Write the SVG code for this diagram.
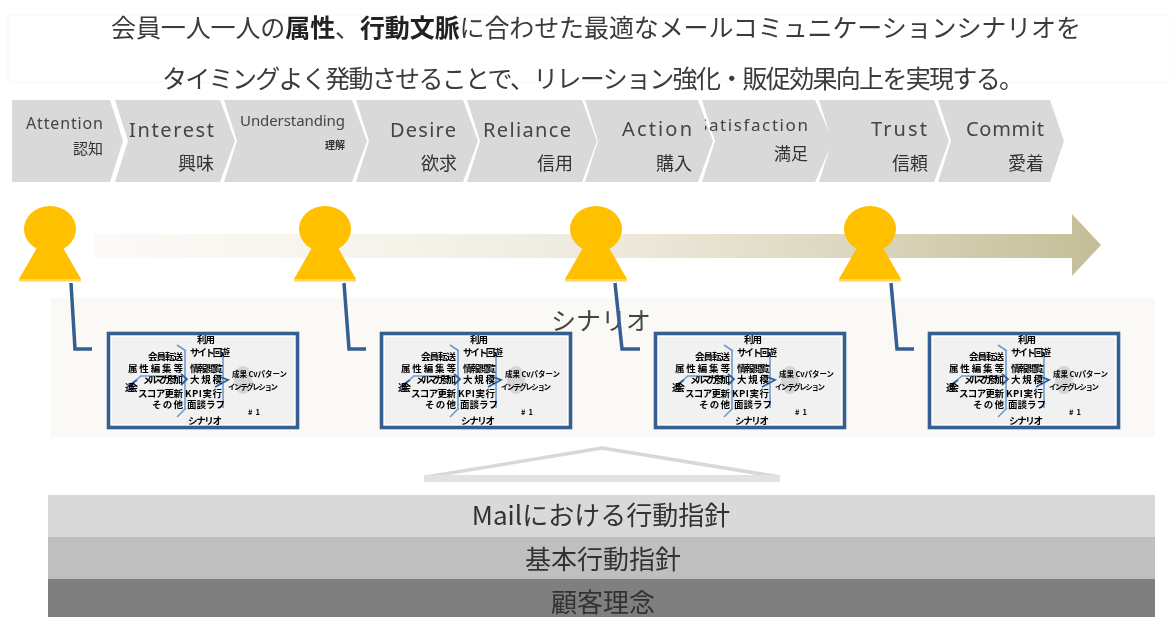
<svg xmlns="http://www.w3.org/2000/svg" xmlns:xlink="http://www.w3.org/1999/xlink" width="1170" height="617" viewBox="0 0 1170 617">
<style>
text{font-family:"Noto Sans CJK JP","Noto Sans",sans-serif;fill:#3a3a3a}
.t{font-size:25px}
.b{font-weight:700;fill:#222}
.chev{fill:#d9d9d9}
.en{font-family:"Noto Sans","Noto Sans CJK JP",sans-serif;font-size:20px;fill:#444}
.ja{font-size:17px;text-anchor:end;fill:#333}
.link{fill:none;stroke:#355e91;stroke-width:3.5}
.bar{font-size:26px;text-anchor:middle;fill:#333}
.c{font-size:9.5px;font-weight:700;fill:#000}
.s{font-size:7.5px;font-weight:700;fill:#000}
.cl{fill:none;stroke:#6f9bd1;stroke-width:1.6}
.cd{fill:none;stroke:#2f5f9e;stroke-width:1.8}
</style>
<defs>
<filter id="soft" x="-2%" y="-2%" width="104%" height="104%"><feGaussianBlur stdDeviation="0.7"/></filter>
<linearGradient id="flow" x1="95" y1="0" x2="1102" y2="0" gradientUnits="userSpaceOnUse"><stop offset="0" stop-color="#fbfaf7"/><stop offset="0.3" stop-color="#f5f3ea"/><stop offset="0.55" stop-color="#ebe7d9"/><stop offset="0.75" stop-color="#dcd7bf"/><stop offset="1" stop-color="#c4bd97"/></linearGradient>
<clipPath id="satclip"><rect x="705" y="100" width="120" height="82"/></clipPath>
<g id="person">
<ellipse cx="50" cy="229" rx="26" ry="23" fill="#ffc000"/>
<path d="M38 246H62L81 279H19Z" fill="#ffc000"/>
<rect x="19" y="279" width="62" height="2.5" fill="#ffd65c"/>
</g>
<g id="card">
<rect x="1.5" y="1.5" width="189" height="94" fill="#fff" stroke="#355e91" stroke-width="3.6"/>
<rect x="5" y="5" width="182" height="87" fill="#f1f1f2"/>
<ellipse cx="136" cy="48" rx="9" ry="14" fill="#d5d5d5"/>
<path class="cl" d="M78 19V78M116 20V76M70 13L79 19M70 85L79 76M34 44L22 54M33 44H76"/>
<path class="cd" d="M74 42L80 47L74 53M108 43L121 48L108 55M30 48L20 55"/>
<text class="c" x="90" y="11" textLength="18">利用</text>
<text class="c" x="83" y="24" textLength="40">サイト回遊</text>
<text class="c" x="41" y="28" textLength="35">会員転送</text>
<text class="c" x="21" y="40" textLength="55">属性編集等</text>
<text class="c" x="83" y="40" textLength="33">情報閲覧</text>
<text class="c" x="36" y="51" textLength="40">メルマガ参加</text>
<text class="c" x="83" y="51" textLength="32">大規模</text>
<text class="c" x="18" y="59" textLength="13">退会</text>
<text class="c" x="31" y="65" textLength="45">スコア更新</text>
<text class="c" x="78" y="65" textLength="37">KPI実行</text>
<text class="c" x="45" y="76" textLength="31">その他</text>
<text class="c" x="80" y="76" textLength="38">面談ラフ</text>
<text class="c" x="81" y="92" textLength="34">シナリオ</text>
<text class="s" x="125" y="45" textLength="55">成果 Cvパターン</text>
<text class="s" x="121" y="58" textLength="50">インテグレション</text>
<text class="s" x="141" y="83" textLength="12">#1</text>
</g>
</defs>
<rect width="1170" height="617" fill="#fff"/>
<g filter="url(#soft)">
<g id="title">
<rect x="8" y="15" width="1162" height="67" fill="#fff" stroke="#f7f7f7"/>
<text class="t" x="111" y="37" textLength="970" lengthAdjust="spacing">会員一人一人の<tspan class="b">属性</tspan>、<tspan class="b">行動文脈</tspan>に合わせた最適なメールコミュニケーションシナリオを</text>
<text class="t" x="162" y="88" font-size="24" textLength="862" lengthAdjust="spacing">タイミングよく発動させることで、リレーション強化・販促効果向上を実現する。</text>
</g>
<g id="stage-attention"><path class="chev" d="M12 100H110L123 141L110 182H12Z"/><text class="en" x="26" y="129" style="font-size:16px" textLength="77">Attention</text><text class="ja" x="103" y="154" style="font-size:15px">認知</text></g>
<g id="stage-interest"><path class="chev" d="M115 100H220L235 141L220 182H115L128 141Z"/><text class="en" x="129" y="137" textLength="85">Interest</text><text class="ja" x="214" y="170" style="font-size:18px">興味</text></g>
<g id="stage-understanding"><path class="chev" d="M224 100H352L367 141L352 182H224L237 141Z"/><text class="en" x="240" y="126" style="font-size:15px" textLength="105">Understanding</text><text class="ja" x="345" y="149" style="font-size:10px;font-weight:700">理解</text></g>
<g id="stage-desire"><path class="chev" d="M356 100H463L478 141L463 182H356L369 141Z"/><text class="en" x="390" y="137" textLength="66">Desire</text><text class="ja" x="457" y="170" style="font-size:18px">欲求</text></g>
<g id="stage-reliance"><path class="chev" d="M467 100H582L597 141L582 182H467L480 141Z"/><text class="en" x="483" y="137" textLength="88">Reliance</text><text class="ja" x="573" y="170" style="font-size:18px">信用</text></g>
<g id="stage-action"><path class="chev" d="M585 100H698L713 141L698 182H585L598 141Z"/><text class="en" x="622" y="136" textLength="70">Action</text><text class="ja" x="692" y="170" style="font-size:18px">購入</text></g>
<g id="stage-satisfaction"><path class="chev" d="M702 100H815L833 141L815 182H702L715 141Z"/><g clip-path="url(#satclip)"><text class="en" x="698" y="131" style="font-size:17px" textLength="110">Satisfaction</text></g><text class="ja" x="808" y="160">満足</text></g>
<g id="stage-trust"><path class="chev" d="M819 100H934L949 141L934 182H819L832 141Z"/><text class="en" x="871" y="136" textLength="56">Trust</text><text class="ja" x="928" y="170" style="font-size:18px">信頼</text></g>
<g id="stage-commit"><path class="chev" d="M938 100H1050L1064 141L1050 182H938L951 141Z"/><text class="en" x="966" y="136" textLength="78">Commit</text><text class="ja" x="1044" y="170" style="font-size:18px">愛着</text></g>
<g id="flow-arrow"><path d="M95 234H1072V214L1101 245L1072 276V258H95Z" fill="url(#flow)"/></g>
<g id="scenario-panel"><rect x="51" y="298" width="1104" height="139" fill="#faf9f6"/></g>
<g id="scenario-label"><text x="601" y="330" text-anchor="middle" style="font-size:25px;fill:#444">シナリオ</text></g>
<g id="person-1"><use href="#person" xlink:href="#person"/></g>
<g id="person-2"><use href="#person" xlink:href="#person" x="275"/></g>
<g id="person-3"><use href="#person" xlink:href="#person" x="546"/></g>
<g id="person-4"><use href="#person" xlink:href="#person" x="820"/></g>
<g id="card-1"><use href="#card" xlink:href="#card" x="107" y="332"/></g>
<g id="card-2"><use href="#card" xlink:href="#card" x="380" y="332"/></g>
<g id="card-3"><use href="#card" xlink:href="#card" x="654" y="332"/></g>
<g id="card-4"><use href="#card" xlink:href="#card" x="928" y="332"/></g>
<g id="connectors">
<path class="link" d="M71 283L75 349H92"/>
<path class="link" d="M344 283L349 349H366"/>
<path class="link" d="M615 283L622 349H640"/>
<path class="link" d="M891 283L897 349H914"/>
</g>
<g id="roof"><path d="M426 477L602 448L780 477" fill="none" stroke="#d8d8d8" stroke-width="3.5" stroke-linejoin="round"/><rect x="424" y="475" width="356" height="7" fill="#e2e2e2"/></g>
<g id="bar-mail"><rect x="48" y="495" width="1107" height="42" fill="#d9d9d9"/><text class="bar" x="601" y="525">Mailにおける行動指針</text></g>
<g id="bar-basic"><rect x="48" y="537" width="1107" height="42" fill="#bfbfbf"/><text class="bar" x="603" y="569">基本行動指針</text></g>
<g id="bar-philosophy"><rect x="48" y="579" width="1107" height="38" fill="#7f7f7f"/><text class="bar" x="603" y="612">顧客理念</text></g>
</g>
</svg>
